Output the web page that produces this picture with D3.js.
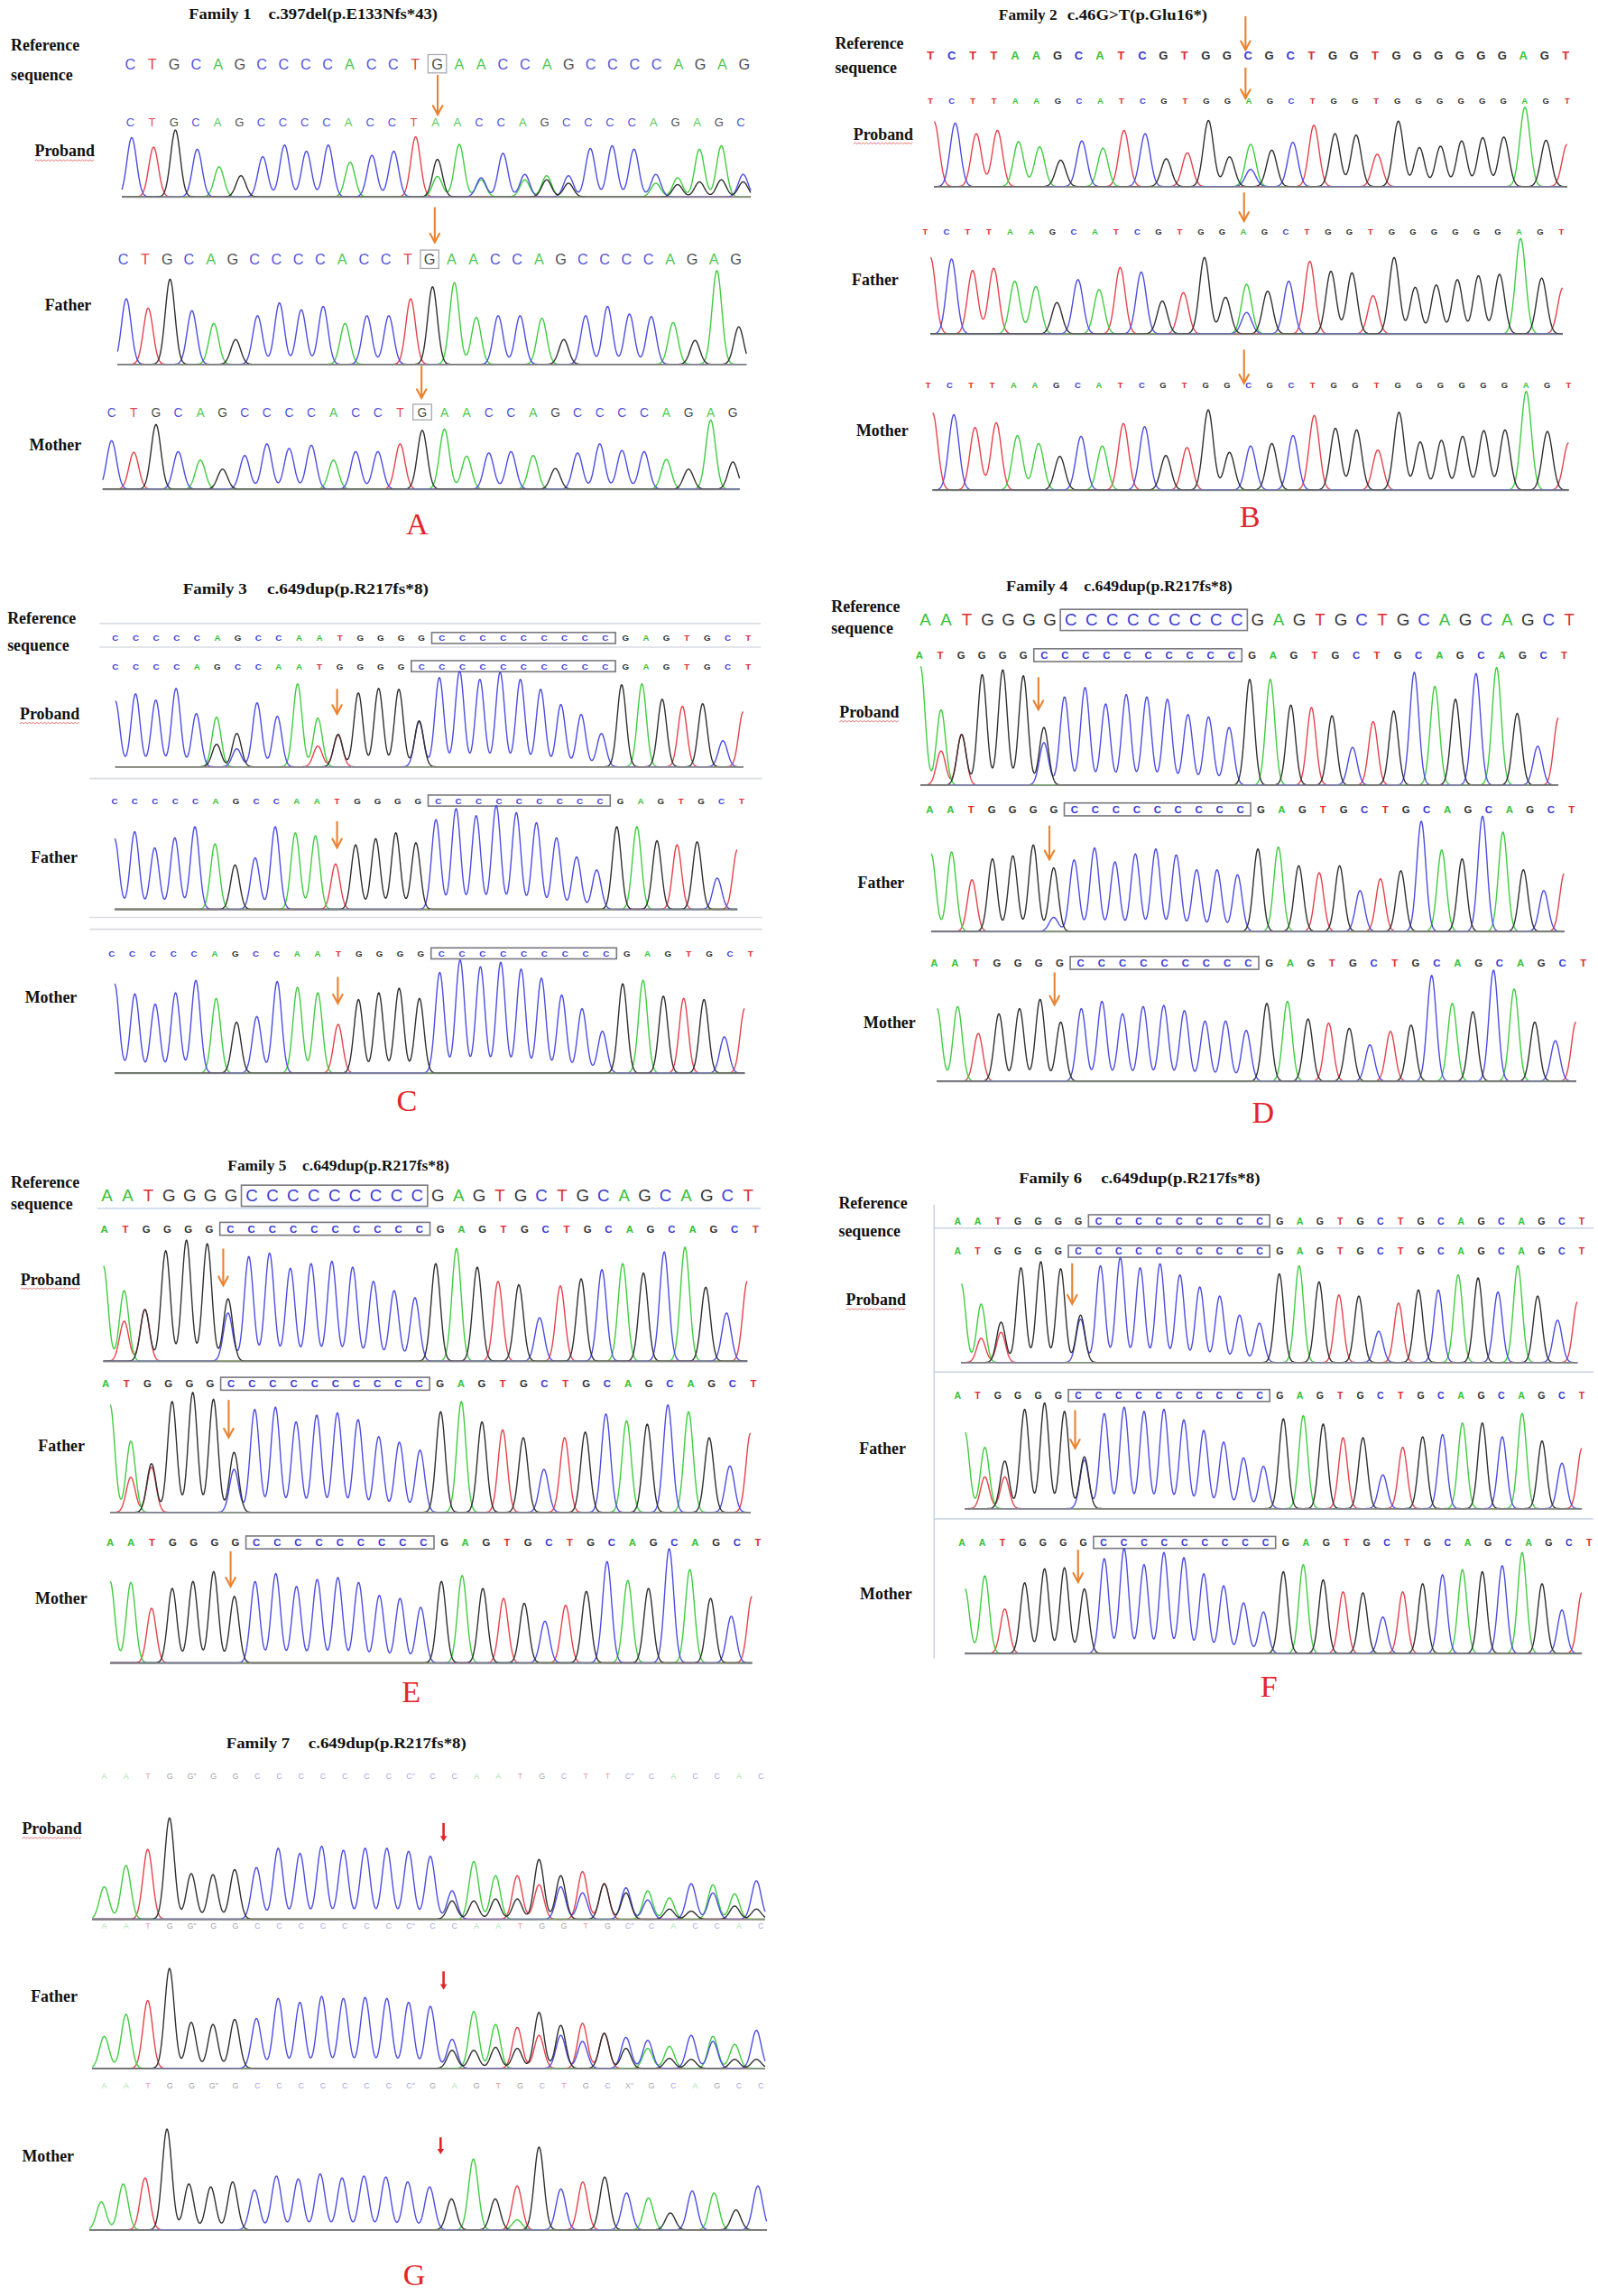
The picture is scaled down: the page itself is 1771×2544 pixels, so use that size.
<!DOCTYPE html>
<html><head><meta charset="utf-8">
<script src="https://cdn.jsdelivr.net/npm/d3@7"></script>
<style>body{margin:0;background:#fff}svg{display:block}</style>
</head><body>
<svg id="fig"></svg>
<script>
// ================= DATA =================
const panelLetters = ["A","B","C","D","E","F","G"];
const familyNames = ["Family 1","Family 2","Family 3","Family 4","Family 5","Family 6","Family 7"];
const mutations = ["c.397del(p.E133Nfs*43)","c.46G>T(p.Glu16*)","c.649dup(p.R217fs*8)","c.649dup(p.R217fs*8)","c.649dup(p.R217fs*8)","c.649dup(p.R217fs*8)","c.649dup(p.R217fs*8)"];
const refLabelLines = ["Reference","sequence"];
const memberLabels = ["Proband","Father","Mother"];

// base calls
const f1Ref = "CTGCAGCCCCACCTGAACCAGCCCCAGAG";
const f1ProbandCalls = "CTGCAGCCCCACCTAACCAGCCCCAGAGC";
const f2Ref = "TCTTAAGCATCGTGGCGCTGGTGGGGGGAGT";
const f2MutCalls = "TCTTAAGCATCGTGGAGCTGGTGGGGGGAGT";
const f3Ref = "CCCCCAGCCAATGGGGCCCCCCCCCGAGTGCT";
const f3ProbandCalls = "CCCCAGCCAATGGGGCCCCCCCCCCGAGTGCT";
const dupRef = "AATGGGGCCCCCCCCCGAGTGCTGCAGCAGCT";
const dupMutCalls = "ATGGGGCCCCCCCCCCGAGTGCTGCAGCAGCT";
const f7TopRow = ["A","A","T","G","G\u2033","G","G","C","C","C","C","C","C","C","C\u2033","C","C","A","A","T","G","C","T","T","C\u2033","C","A","C","C","A","C"];
const f7ProbandRow = ["A","A","T","G","G\u2033","G","G","C","C","C","C","C","C","C","C\u2033","C","C","A","A","T","G","G","T","G","C\u2033","C","A","C","C","A","C"];
const f7FatherRow = ["A","A","T","G","G","G\u2033","G","C","C","C","C","C","C","C","C\u2033","G","A","G","T","G","C","T","G","C","X\u2033","G","C","A","G","C","C"];

// peak heights (base + relative height; two entries = overlapping peaks)
const f1ProbandPeaks = ["C.87","T.73","G.98","C.70","A.44","G.31","C.59","C.76","C.67","C.76","A.51","C.61","C.67","T.88","G.55 A.30","A.77","A.25 C.28","C.64","C.33 A.25","A.31 G.25","C.31 G.20","C.71","C.75","C.70","C.33 A.20","A.28 G.18","A.70 G.22","A.75 G.25","C.33 G.22"];
const f1FatherPeaks = ["C.77","T.66","G1.0","C.63","A.48","G.29","C.57","C.72","C.64","C.68","A.48","C.57","C.57","T.77","G.91","A.96","A.55","C.57","C.57","A.54","G.29","C.57","C.68","C.59","C.56","A.49","G.28","A1.1","G.44"];
const f1MotherPeaks = ["C.75","T.57","G1.0","C.58","A.45","G.31","C.52","C.70","C.63","C.68","A.45","C.58","C.58","T.70","G.91","A.93","A.51","C.56","C.58","A.52","G.32","C.56","C.70","C.60","C.58","A.46","G.31","A1.07","G.42"];
const f2ProbandPeaks = ["T.98","C.96","T.80","T.85","A.68","A.60","G.40","C.69","A.58","T.85","C.80","G.42","T.51","G1.0","G.45","A.64 C.26","G.55","C.67","T.93","G.80","G.78","T.49","G.99","G.59","G.61","G.69","G.74","G.75","A1.2","G.70","T.64"];
const f2FatherPeaks = ["T1.0","C.98","T.83","T.86","A.69","A.62","G.41","C.71","A.58","T.87","C.81","G.43","T.54","G1.0","G.48","A.65 C.28","G.56","C.69","T.95","G.82","G.80","T.50","G1.0","G.61","G.64","G.71","G.76","G.78","A1.25","G.73","T.60"];
const f2MotherPeaks = ["T.96","C.94","T.78","T.84","A.68","A.58","G.42","C.67","A.55","T.83","C.79","G.43","T.53","G1.0","G.47","C.55","G.58","C.68","T.93","G.77","G.75","T.50","G.97","G.60","G.62","G.67","G.74","G.75","A1.23","G.73","T.59"];
const f3ProbandPeaks = ["C.73","C.81","C.74","C.87","C.59","A.55 G.25","G.37 C.20","C.71","C.56","A.92","A.54 T.23","G.36 T.35","G.82","G.87","G.86","G.51 C.50","C.99","C1.06","C.97","C1.05","C.97","C.86","C.69","C.58","C.37","G.91","A.92","G.75","T.67","G.70","C.29","T.61"];
const f3FatherPeaks = ["C.70","C.77","C.61","C.71","C.82","A.65","G.44","C.51","C.82","A.76","A.73","T.45","G.64","G.70","G.76","G.66","C.89","C1.0","C.93","C1.03","C.96","C.86","C.71","C.52","C.39","G.82","A.82","G.68","T.64","G.67","C.31","T.59"];
const f3MotherPeaks = ["C.79","C.70","C.61","C.71","C.82","A.66","G.45","C.50","C.81","A.76","A.71","T.43","G.65","G.71","G.75","G.66","C.89","C1.0","C.94","C.98","C.92","C.84","C.69","C.57","C.37","G.79","A.82","G.68","T.66","G.65","C.32","T.57"];
const f4ProbandPeaks = ["A1.01","A.64 T.29","G.43 T.43","G.94","G.98","G.93","G.49 C.36","C.75","C.83","C.69","C.77","C.75","C.73","C.60","C.58","C.49","G.90","A.90","G.68","T.66","G.59","C.32","T.54","G.63","C.96","A.84","G.73","C.95","A1.0","G.61","C.33","T.57"];
const f4FatherPeaks = ["A.78","A.80","T.52","G.73","G.76","G.87","G.64 C.14","C.72","C.84","C.70","C.78","C.83","C.77","C.62","C.62","C.57","G.83","A.85","G.66","T.59","G.66","C.41","T.53","G.61","C1.11","A.82","G.73","C1.16","A1.0","G.62","C.41","T.58"];
const f4MotherPeaks = ["A.70","A.72","T.46","G.65","G.70","G.79","G.57","C.70","C.77","C.65","C.72","C.73","C.68","C.58","C.58","C.49","G.75","A.77","G.60","T.56","G.51","C.35","T.48","G.54","C1.02","A.75","G.67","C1.07","A.89","G.57","C.39","T.57"];
const f5ProbandPeaks = ["A.81","A.60 T.34","G.44 T.44","G.94","G1.03","G1.0","G.53 C.41","C.89","C.92","C.79","C.83","C.85","C.80","C.68","C.60","C.54","G.83","A.96","G.80","T.68","G.65","C.37","T.64","G.70","C.78","A.83","G.75","C.93","A.97","G.63","C.41","T.68"];
const f5FatherPeaks = ["A.95","A.63 T.31","G.43 T.40","G.98","G1.06","G1.0","G.53 C.38","C.91","C.93","C.80","C.86","C.88","C.82","C.67","C.62","C.55","G.89","A.98","G.80","T.73","G.66","C.38","T.66","G.71","C.87","A.81","G.78","C.95","A.89","G.66","C.41","T.70"];
const f5MotherPeaks = ["A.82","A.81","T.55","G.75","G.82","G.92","G.67","C.82","C.90","C.77","C.84","C.86","C.81","C.68","C.65","C.56","G.82","A.88","G.75","T.65","G.60","C.42","T.58","G.72","C1.02","A.83","G.75","C1.15","A.94","G.65","C.47","T.67"];
const f6ProbandPeaks = ["A.78","A.58 T.24","G.40 T.30","G.94","G1.0","G.93","G.47 C.43","C.96","C1.04","C.94","C.98","C.87","C.75","C.66","C.47","C.39","G.88","A.96","G.80","T.67","G.66","C.31","T.59","G.72","C.72","A.87","G.84","C.70","A.96","G.66","C.42","T.60"];
const f6FatherPeaks = ["A.72","A.58 T.30","G.45 T.30","G.94","G1.0","G.92","G.49 C.46","C.90","C.96","C.92","C.94","C.84","C.74","C.63","C.48","C.40","G.85","A.88","G.80","T.67","G.67","C.32","T.58","G.68","C.70","A.81","G.81","C.68","A.90","G.64","C.43","T.57"];
const f6MotherPeaks = ["A.64","A.77","T.44","G.70","G.84","G.85","G.64","C.94","C1.04","C.88","C1.0","C.95","C.79","C.67","C.50","C.41","G.81","A.88","G.73","T.61","G.60","C.36","T.61","G.69","C.78","A.83","G.81","C.87","A1.0","G.69","C.43","T.60"];
const f7ProbandPeaks = ["A.32","A.53","T.69","G1.0","G.45","G.44","G.49","C.51","C.70","C.65","C.72","C.68","C.70","C.70","C.67","C.62","C.28 G.18","A.57 G.18","A.43 G.20","T.43 G.20","G.59 T.34","G.43 C.32","T.47 C.26","T.35 G.35","C.31 G.26","A.28 C.19","A.21 G.10","C.35 G.08","A.34 C.26","A.25 G.13","C.38 G.10"];
const f7FatherPeaks = ["A.32","A.54","T.68","G1.0","G.46","G.44","G.49","C.50","C.70","C.66","C.72","C.70","C.71","C.70","C.66","C.62","C.29 G.18","A.57 G.18","A.44 G.21","T.41 G.20","G.56 T.33","G.43 C.33","T.45 C.27","T.35 G.35","C.31 G.20","C.28 A.20","A.22 G.10","C.33 G.09","A.32 C.27","A.24 G.09","C.38 G.09"];
const f7MotherPeaks = ["A.28","A.46","T.52","G1.01","G.46","G.43","G.48","C.40","C.54","C.51","C.56","C.52","C.54","C.53","C.48","C.43","G.31","A.71","G.31","T.44 A.10","G.83","C.41","T.48","G.53","C.37","A.32","G.17","C.39","A.37","G.20","C.44"];

// ================= STYLE / LAYOUT =================
const sans = "'Liberation Sans', Arial, sans-serif";
const serif = "'Liberation Serif', 'Times New Roman', serif";
const bases = ["A","C","G","T"];
const traceColor = d3.scaleOrdinal().domain(bases).range(["#3fcc3f","#4b4be2","#2e2e2e","#e6404a"]);
const seqColor = d3.scaleOrdinal().domain(bases.concat(["X"])).range(["#36c236","#3a3ad6","#333333","#dd2e2e","#555555"]);
const letterStyles = {
  thin:{weight:400, op:0.9}, bold:{weight:700, op:1}, big:{weight:400, op:1}, faint:{weight:400, op:0.5}
};

const panels = [
 { title:{fx:128.6, fw:42.4, mx:182.8, mw:115.2, y:12.8}, refLabel:{x:7.4, y1:34.3, y2:54.8},
   letter:{x:284, y:364},
   ref:{seq:f1Ref, x0:88.7, x1:506.7, y:43.4, fs:10, st:"thin", box:[14,14]},
   tracks:[
    {lx:23.7, ly:106.6, under:true, seq:{seq:f1ProbandCalls, x0:88.7, x1:504.4, y:83, fs:8, st:"thin"},
     peaks:f1ProbandPeaks, px0:89.7, px1:506, base:134, H:46.4, padL:.45, padR:.35},
    {lx:30.5, ly:211.6, seq:{seq:f1Ref, x0:84, x1:501, y:176.5, fs:10, st:"thin", box:[14,14]},
     peaks:f1FatherPeaks, px0:86, px1:503, base:248, H:58, padL:.4, padR:.35},
    {lx:20, ly:306.6, seq:{seq:f1Ref, x0:76, x1:499, y:280.5, fs:8.5, st:"thin", box:[14,14]},
     peaks:f1MotherPeaks, px0:76, px1:499, base:333, H:44, padL:.4, padR:.3}],
   arrows:[{x:298,y0:51,y1:78},{x:296,y0:141,y1:165},{x:287,y0:249,y1:271}] },
 { title:{fx:680, fw:39.8, mx:726.6, mw:95.4, y:13.8}, refLabel:{x:568.5, y1:33.3, y2:49.8},
   letter:{x:851, y:358.6},
   ref:{seq:f2Ref, x0:633.5, x1:1066, y:37.9, fs:8, st:"bold"},
   tracks:[
    {lx:581, ly:95, under:true, seq:{seq:f2MutCalls, x0:633.5, x1:1067, y:68.6, fs:5.8, st:"bold"},
     peaks:f2ProbandPeaks, px0:636, px1:1067, base:127, H:45, sigma:.24},
    {lx:580, ly:194, seq:{seq:f2MutCalls, x0:630, x1:1063, y:157.7, fs:5.8, st:"bold"},
     peaks:f2FatherPeaks, px0:633.5, px1:1064, base:227.3, H:52, sigma:.24},
    {lx:583, ly:296.6, seq:{seq:f2Ref, x0:632, x1:1068, y:262, fs:5.8, st:"bold"},
     peaks:f2MotherPeaks, px0:635, px1:1068, base:333.6, H:54.6, sigma:.24}],
   arrows:[{x:848,y0:11,y1:34},{x:848,y0:46,y1:67},{x:847,y0:131,y1:150.5},{x:847,y0:238,y1:261}] },
 { title:{fx:124.6, fw:43.6, mx:181.8, mw:110, y:404}, refLabel:{x:5, y1:424.4, y2:443},
   letter:{x:277, y:756.6},
   lines:[[67.7,424.5,518,424.5],[67.7,440.5,518,440.5],[61,530,519,530],[61,624.5,519,624.5],[61,632.6,519,632.6]],
   ref:{seq:f3Ref, x0:78.5, x1:509.4, y:434.3, fs:6, st:"bold", box:[16,24]},
   tracks:[
    {lx:13.5, ly:489.6, under:true, seq:{seq:f3ProbandCalls, x0:78.5, x1:509.4, y:453.5, fs:6, st:"bold", box:[15,24]},
     peaks:f3ProbandPeaks, px0:78.5, px1:506, base:522, H:61.4},
    {lx:21, ly:587.6, seq:{seq:f3Ref, x0:78, x1:505, y:545, fs:6, st:"bold", box:[16,24]},
     peaks:f3FatherPeaks, px0:78, px1:502, base:619, H:68.6},
    {lx:17, ly:682.6, seq:{seq:f3Ref, x0:76, x1:511, y:649, fs:6, st:"bold", box:[16,24]},
     peaks:f3MotherPeaks, px0:78, px1:507, base:730.5, H:77}],
   arrows:[{x:229.5,y0:469,y1:486},{x:229.5,y0:559,y1:577},{x:230,y0:665,y1:683}] },
 { title:{fx:685, fw:42, mx:738, mw:101, y:402.6}, refLabel:{x:566, y1:416.6, y2:431},
   letter:{x:860, y:764.6},
   ref:{seq:dupRef, x0:630, x1:1068.5, y:422, fs:11.5, st:"big", box:[7,15]},
   tracks:[
    {lx:571.5, ly:488.4, under:true, seq:{seq:dupMutCalls, x0:626, x1:1065, y:446, fs:7, st:"bold", box:[6,15]},
     peaks:f4ProbandPeaks, px0:626.7, px1:1061, base:534.4, H:80},
    {lx:584, ly:604.6, seq:{seq:dupRef, x0:633, x1:1070, y:551, fs:7, st:"bold", box:[7,15]},
     peaks:f4FatherPeaks, px0:634, px1:1065, base:634, H:67.6},
    {lx:588, ly:700, seq:{seq:dupRef, x0:636, x1:1078, y:655.5, fs:7, st:"bold", box:[7,15]},
     peaks:f4MotherPeaks, px0:638, px1:1073, base:736, H:70.6}],
   arrows:[{x:707,y0:461,y1:483},{x:714.5,y0:562,y1:585},{x:718,y0:662,y1:684}] },
 { title:{fx:155, fw:40, mx:205.8, mw:100, y:797}, refLabel:{x:7.4, y1:808.6, y2:823},
   letter:{x:280, y:1158.6},
   lines:[[66,822.6,518,822.6,"#cfdcec"]],
   ref:{seq:dupRef, x0:72.8, x1:509.4, y:814, fs:11.5, st:"big", box:[7,15]},
   tracks:[
    {lx:14, ly:874.6, under:true, seq:{seq:dupMutCalls, x0:71, x1:514.5, y:836.5, fs:7, st:"bold", box:[6,15]},
     peaks:f5ProbandPeaks, px0:70.4, px1:508.8, base:926.6, H:80},
    {lx:26, ly:988.2, seq:{seq:dupMutCalls, x0:72, x1:513, y:942, fs:7, st:"bold", box:[6,15]},
     peaks:f5FatherPeaks, px0:75, px1:511, base:1029.5, H:77},
    {lx:24, ly:1091.6, seq:{seq:dupRef, x0:75, x1:516, y:1050, fs:7, st:"bold", box:[7,15]},
     peaks:f5MotherPeaks, px0:75, px1:512, base:1132, H:67.6}],
   arrows:[{x:152,y0:850,y1:875},{x:155.7,y0:953,y1:978.5},{x:157,y0:1056,y1:1080}] },
 { title:{fx:693.7, fw:43, mx:749.6, mw:108.4, y:805.2}, refLabel:{x:571, y1:822.6, y2:842},
   letter:{x:864, y:1155},
   lines:[[636,820,636,1129,"#c9d3e3"],[636,836,1085,836,"#c9d3e3"],[636,934,1085,934,"#c9d3e3"],[636,1034,1085,1034,"#c9d3e3"]],
   ref:{seq:dupRef, x0:652, x1:1077, y:831, fs:6.5, st:"bold", box:[7,15]},
   tracks:[
    {lx:576, ly:888.6, under:true, seq:{seq:dupMutCalls, x0:652, x1:1077, y:851.8, fs:6.5, st:"bold", box:[6,15]},
     peaks:f6ProbandPeaks, px0:654.5, px1:1074, base:927.5, H:68.6},
    {lx:585, ly:989.6, seq:{seq:dupMutCalls, x0:652, x1:1077, y:950, fs:6.5, st:"bold", box:[6,15]},
     peaks:f6FatherPeaks, px0:657, px1:1077, base:1027, H:72},
    {lx:585.5, ly:1089, seq:{seq:dupRef, x0:655, x1:1082, y:1050, fs:6.5, st:"bold", box:[7,15]},
     peaks:f6MotherPeaks, px0:657, px1:1077, base:1125.5, H:68.6}],
   arrows:[{x:730,y0:860,y1:887.6},{x:732,y0:960,y1:986},{x:734,y0:1055,y1:1077}] },
 { title:{fx:154, fw:43.3, mx:210, mw:107.5, y:1190.2}, refLabel:null,
   letter:{x:282, y:1555.6},
   ref:{seq:f7TopRow, x0:71, x1:518, y:1209, fs:5.5, st:"faint"},
   tracks:[
    {lx:15, ly:1248.6, under:true, below:{seq:f7ProbandRow, x0:71, x1:518, y:1311, fs:5.5, st:"faint"},
     peaks:f7ProbandPeaks, px0:71, px1:515, base:1306.5, H:69, padL:.55, padR:.4},
    {lx:21, ly:1362.6, below:{seq:f7FatherRow, x0:71, x1:518, y:1420, fs:5.5, st:"faint"},
     peaks:f7FatherPeaks, px0:71, px1:515, base:1408, H:68, padL:.55, padR:.4},
    {lx:15, ly:1471.6,
     peaks:f7MotherPeaks, px0:69, px1:516, base:1518, H:68, padL:.55, padR:.4}],
   arrows:[{x:302,y0:1241,y1:1253,red:true},{x:302,y0:1342,y1:1354,red:true},{x:300,y0:1455,y1:1466,red:true}] }
];

// ================= DRAW =================
const svg = d3.select("#fig").attr("width",1771).attr("height",2544)
  .attr("viewBox","0 0 1088 1563").attr("preserveAspectRatio","none");
svg.append("rect").attr("width",1088).attr("height",1563).attr("fill","#fff");

function parsePeaks(arr){
  return arr.map(s=>s.split(" ").map(t=>({base:t[0], h:+t.slice(1)})));
}

function drawSeq(g, c){
  const toks = Array.isArray(c.seq) ? c.seq : Array.from(c.seq);
  const x = d3.scaleLinear().domain([0, toks.length-1]).range([c.x0, c.x1]);
  const sp = (c.x1-c.x0)/(toks.length-1);
  const st = letterStyles[c.st];
  if (c.box){
    const single = c.box[0]===c.box[1];
    const bx0 = x(c.box[0]) - sp*(single?0.42:0.5);
    const bx1 = x(c.box[1]) + sp*(single?0.42:0.5);
    const bh = Math.max(7.5, c.fs*1.25);
    g.append("rect").attr("x",bx0).attr("y",c.y-bh/2).attr("width",bx1-bx0).attr("height",bh)
      .attr("fill","none").attr("stroke", single?"#a8a8b0":"#7a7a80").attr("stroke-width", single?0.8:1);
  }
  g.append("g").selectAll("text").data(toks).join("text")
    .attr("x",(d,i)=>x(i)).attr("y",c.y)
    .attr("text-anchor","middle").attr("dominant-baseline","central")
    .attr("font-family",sans).attr("font-size",c.fs).attr("font-weight",st.weight)
    .attr("fill",d=>seqColor(d[0])).attr("fill-opacity",st.op)
    .text(d=>d);
}

function drawTrace(g, t){
  const peaks = parsePeaks(t.peaks);
  const n = peaks.length;
  const x = d3.scaleLinear().domain([0, n-1]).range([t.px0, t.px1]);
  const y = d3.scaleLinear().domain([0, 1]).range([t.base, t.base - t.H]);
  const sig = t.sigma || 0.22;
  const t0 = -(t.padL||0), t1 = n-1+(t.padR||0);
  const samples = d3.range(t0, t1+1e-9, 0.025);
  const line = d3.line();
  ["T","A","C","G"].forEach(b=>{
    const pts = samples.map(s=>{
      let v = 0;
      peaks.forEach((p,i)=>p.forEach(q=>{
        if(q.base===b){ const d=(s-i)/sig; v += q.h*Math.exp(-0.5*d*d); }
      }));
      return [x(s), y(v)];
    });
    g.append("path").attr("d", line(pts)).attr("fill","none")
      .attr("stroke", traceColor(b)).attr("stroke-width",0.85).attr("stroke-linejoin","round");
  });
  // grey baseline drawn over the flat parts of the traces
  g.append("line").attr("x1",x(t0)).attr("x2",x(t1)).attr("y1",t.base+0.2).attr("y2",t.base+0.2)
    .attr("stroke","#8c8c8c").attr("stroke-width",1.1).attr("stroke-opacity",0.85);
}

function label(g, txt, x, y, under){
  const el = g.append("text").attr("x",x).attr("y",y).attr("font-family",serif)
    .attr("font-weight",700).attr("font-size",11).attr("fill","#111").text(txt);
  if (under){
    const w = el.node().getComputedTextLength();
    const pts = d3.range(0, Math.floor(w/1.3)+1).map(i=>[x+i*1.3, y+2.6+(i%2?-0.45:0.45)]);
    g.append("path").attr("d",d3.line()(pts)).attr("fill","none").attr("stroke","#e46f6f").attr("stroke-width",0.6);
  }
}

function arrow(g, a){
  const col = a.red ? "#e0262b" : "#ea8330";
  if (a.red){
    g.append("line").attr("x1",a.x).attr("x2",a.x).attr("y1",a.y0).attr("y2",a.y1-2.5)
      .attr("stroke",col).attr("stroke-width",1.6);
    g.append("path").attr("d",`M${a.x-2.3},${a.y1-3.2}L${a.x+2.3},${a.y1-3.2}L${a.x},${a.y1+0.6}Z`).attr("fill",col);
  } else {
    g.append("line").attr("x1",a.x).attr("x2",a.x).attr("y1",a.y0).attr("y2",a.y1)
      .attr("stroke",col).attr("stroke-width",1.3);
    g.append("path").attr("d",`M${a.x-3.2},${a.y1-6}L${a.x},${a.y1}L${a.x+3.2},${a.y1-6}`)
      .attr("fill","none").attr("stroke",col).attr("stroke-width",1.3).attr("stroke-linecap","round");
  }
}

panels.forEach((P,k)=>{
  const g = svg.append("g");
  (P.lines||[]).forEach(l=>{
    g.append("line").attr("x1",l[0]).attr("y1",l[1]).attr("x2",l[2]).attr("y2",l[3])
      .attr("stroke", l[4]||"#d9dce4").attr("stroke-width",1);
  });
  g.append("text").attr("x",P.title.fx).attr("y",P.title.y).attr("font-family",serif).attr("font-weight",700)
    .attr("font-size",10.9).attr("textLength",P.title.fw).attr("lengthAdjust","spacingAndGlyphs").attr("fill","#111")
    .text(familyNames[k]);
  g.append("text").attr("x",P.title.mx).attr("y",P.title.y).attr("font-family",serif).attr("font-weight",700)
    .attr("font-size",10.9).attr("textLength",P.title.mw).attr("lengthAdjust","spacingAndGlyphs").attr("fill","#111")
    .text(mutations[k]);
  if (P.refLabel){
    label(g, refLabelLines[0], P.refLabel.x, P.refLabel.y1, false);
    label(g, refLabelLines[1], P.refLabel.x, P.refLabel.y2, false);
  }
  if (P.ref) drawSeq(g, P.ref);
  P.tracks.forEach((t,j)=>{
    label(g, memberLabels[j], t.lx, t.ly, !!t.under);
    if (t.seq) drawSeq(g, t.seq);
    if (t.below) drawSeq(g, t.below);
    drawTrace(g, t);
  });
  P.arrows.forEach(a=>arrow(g,a));
  g.append("text").attr("x",P.letter.x).attr("y",P.letter.y).attr("text-anchor","middle")
    .attr("font-family",serif).attr("font-size",21).attr("fill","#e3242b").text(panelLetters[k]);
});
</script>
</body></html>
